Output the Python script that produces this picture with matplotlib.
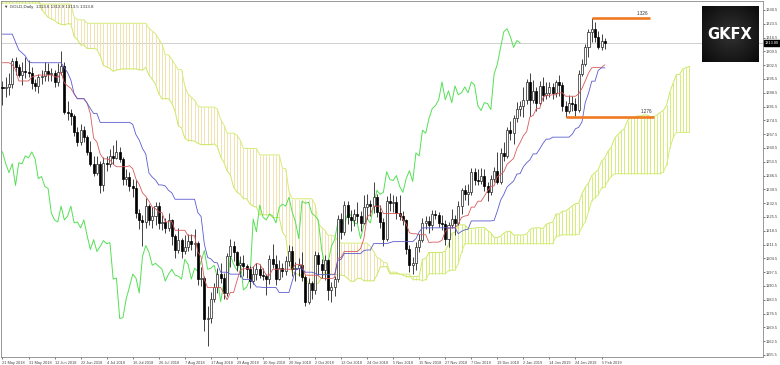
import numpy as np
import matplotlib.pyplot as plt
import matplotlib.transforms as mtransforms

# warm-up highs/lows (31 Jan - 18 May 2018), only used to build the Ichimoku lines
warm_high = [1346, 1350, 1350,
             1343, 1341, 1331, 1323, 1321,
             1324, 1332, 1351, 1361, 1362,
             1350, 1347, 1335, 1334, 1333,
             1340, 1334, 1321, 1322, 1324,
             1325, 1339, 1337, 1329, 1328,
             1324, 1330, 1328, 1327, 1318,
             1319, 1320, 1333, 1336, 1350,
             1356, 1356, 1343, 1329, 1327,
             1347, 1347, 1344, 1336, 1337,
             1338, 1341, 1365, 1354, 1348,
             1351, 1350, 1353, 1354, 1346,
             1338, 1335, 1332, 1326, 1324,
             1323, 1316, 1312, 1316, 1317,
             1318, 1316, 1315, 1323, 1325,
             1323, 1318, 1297, 1296, 1296]
warm_low = [1335, 1338, 1331,
            1331, 1322, 1315, 1310, 1307,
            1313, 1321, 1318, 1348, 1345,
            1343, 1325, 1321, 1322, 1325,
            1327, 1315, 1313, 1303, 1316,
            1312, 1317, 1323, 1314, 1315,
            1314, 1319, 1319, 1313, 1307,
            1307, 1307, 1309, 1321, 1326,
            1342, 1340, 1323, 1321, 1323,
            1322, 1331, 1329, 1321, 1324,
            1328, 1330, 1337, 1332, 1333,
            1342, 1340, 1342, 1344, 1334,
            1322, 1322, 1320, 1315, 1315,
            1314, 1302, 1302, 1304, 1307,
            1309, 1305, 1304, 1311, 1315,
            1315, 1289, 1286, 1286, 1286]

# daily bars 21 May 2018 - 6 Feb 2019
opens = [1291.5, 1291.0, 1291.5, 1293.0, 1304.5, 1301.5, 1297.5, 1299.5, 1299.0, 1298.5,
         1293.5, 1292.0, 1296.5, 1297.0, 1299.5, 1298.0, 1298.5, 1294.0, 1299.0, 1302.0,
         1279.0, 1278.5, 1276.5, 1268.5, 1263.5, 1269.5, 1266.0, 1258.5, 1252.5, 1248.0,
         1252.5, 1241.5, 1253.0, 1252.5, 1256.5, 1255.5, 1258.5, 1255.0, 1245.0, 1246.0,
         1241.0, 1240.0, 1227.5, 1224.0, 1223.0, 1231.0, 1224.0, 1226.0, 1231.0, 1222.5,
         1223.0, 1220.0, 1224.0, 1216.0, 1209.0, 1214.0, 1208.0, 1210.5, 1213.5, 1212.0,
         1212.5, 1194.0, 1194.5, 1174.0, 1174.5, 1184.0, 1190.0, 1196.5, 1194.5, 1187.0,
         1205.5, 1211.0, 1207.5, 1201.0, 1202.0, 1200.5, 1199.0, 1193.0, 1196.5, 1199.0,
         1196.0, 1195.5, 1194.0, 1204.0, 1201.5, 1194.0, 1199.5, 1198.0, 1203.0, 1208.5,
         1199.0, 1199.5, 1201.0, 1195.0, 1182.5, 1192.0, 1188.5, 1206.0, 1201.5, 1198.5,
         1203.5, 1188.5, 1190.0, 1194.0, 1224.5, 1218.0, 1231.5, 1225.5, 1224.0, 1227.0,
         1226.0, 1222.5, 1230.5, 1232.0, 1231.0, 1235.5, 1228.0, 1223.0, 1214.5, 1233.5,
         1232.5, 1233.0, 1227.5, 1226.0, 1224.0, 1209.5, 1201.0, 1202.0, 1210.5, 1214.0,
         1222.5, 1223.5, 1221.5, 1227.0, 1226.5, 1222.5, 1222.0, 1214.5, 1221.5, 1224.5,
         1222.5, 1231.0, 1239.0, 1237.0, 1238.0, 1248.5, 1244.5, 1244.0, 1246.5, 1241.0,
         1238.0, 1245.0, 1249.0, 1243.5, 1258.0, 1256.5, 1269.5, 1268.0, 1275.5, 1280.5,
         1282.0, 1285.0, 1294.0, 1285.0, 1289.5, 1283.5, 1292.0, 1287.5, 1288.5, 1291.5,
         1288.5, 1294.0, 1292.5, 1282.0, 1279.5, 1283.5, 1283.0, 1280.0, 1298.0, 1303.0,
         1311.5, 1319.5, 1321.0, 1317.0, 1311.5, 1315.0]
highs = [1294.5, 1296.5, 1298.5, 1306.0, 1306.5, 1303.0, 1304.0, 1306.5, 1305.0, 1301.5,
         1295.5, 1298.0, 1300.0, 1304.0, 1303.5, 1301.0, 1300.0, 1303.5, 1309.5, 1304.0,
         1284.5, 1280.5, 1277.5, 1271.0, 1272.5, 1271.5, 1267.0, 1264.0, 1256.5, 1256.5,
         1254.0, 1256.0, 1256.5, 1260.0, 1262.0, 1264.5, 1261.0, 1256.0, 1250.0, 1248.5,
         1245.0, 1244.5, 1229.5, 1226.5, 1235.0, 1232.0, 1230.5, 1233.0, 1233.0, 1226.5,
         1225.0, 1227.5, 1224.5, 1217.0, 1220.0, 1215.0, 1216.5, 1217.0, 1217.0, 1219.5,
         1213.5, 1200.0, 1195.5, 1180.5, 1187.5, 1192.0, 1199.5, 1202.0, 1197.0, 1207.0,
         1214.5, 1213.5, 1208.5, 1205.5, 1206.0, 1201.5, 1200.5, 1200.5, 1202.0, 1201.5,
         1199.5, 1196.5, 1206.0, 1212.0, 1206.0, 1203.5, 1202.0, 1205.5, 1211.5, 1211.0,
         1202.5, 1204.5, 1207.5, 1196.0, 1194.5, 1193.0, 1208.0, 1207.5, 1204.0, 1206.0,
         1204.0, 1192.5, 1195.5, 1226.5, 1227.5, 1233.5, 1233.5, 1229.0, 1229.5, 1233.0,
         1228.5, 1236.5, 1237.0, 1234.0, 1243.5, 1237.0, 1231.5, 1225.0, 1236.0, 1237.5,
         1236.5, 1236.0, 1236.5, 1228.5, 1224.5, 1211.5, 1205.0, 1213.0, 1217.0, 1225.0,
         1226.0, 1226.0, 1229.0, 1229.0, 1228.0, 1226.5, 1224.0, 1223.0, 1229.5, 1226.5,
         1233.5, 1240.0, 1241.5, 1242.0, 1250.5, 1250.5, 1250.0, 1250.5, 1250.0, 1243.5,
         1247.0, 1251.0, 1258.5, 1260.5, 1263.5, 1271.0, 1274.0, 1277.0, 1284.0, 1284.5,
         1291.5, 1295.5, 1298.5, 1295.0, 1291.5, 1294.5, 1296.5, 1294.0, 1294.0, 1293.5,
         1295.0, 1297.5, 1294.0, 1284.5, 1287.5, 1287.0, 1286.0, 1300.0, 1305.5, 1313.0,
         1321.0, 1326.3, 1324.5, 1320.0, 1318.5, 1316.5]
lows = [1282.5, 1286.5, 1287.5, 1291.0, 1297.5, 1296.5, 1292.5, 1296.0, 1296.5, 1290.5,
        1289.5, 1288.5, 1293.0, 1294.5, 1294.5, 1294.5, 1291.5, 1292.0, 1297.5, 1277.5,
        1274.5, 1272.0, 1266.5, 1261.5, 1262.0, 1263.5, 1257.0, 1251.5, 1246.5, 1247.0,
        1237.5, 1238.5, 1249.0, 1251.0, 1252.5, 1255.0, 1253.5, 1241.5, 1241.5, 1238.5,
        1235.5, 1225.0, 1219.5, 1211.0, 1220.0, 1221.5, 1220.0, 1221.5, 1219.5, 1219.0,
        1217.5, 1218.5, 1211.5, 1204.5, 1207.0, 1204.5, 1206.5, 1208.5, 1209.0, 1205.5,
        1191.0, 1190.5, 1167.5, 1160.0, 1171.5, 1182.5, 1187.0, 1192.0, 1184.0, 1185.5,
        1200.0, 1203.0, 1198.0, 1195.0, 1195.5, 1194.5, 1189.5, 1191.5, 1193.5, 1194.5,
        1193.5, 1186.0, 1191.5, 1199.5, 1191.0, 1193.5, 1195.0, 1196.0, 1200.5, 1195.5,
        1193.0, 1195.5, 1193.0, 1180.5, 1181.5, 1184.0, 1186.5, 1196.0, 1194.5, 1193.5,
        1183.5, 1182.5, 1185.5, 1192.5, 1214.5, 1216.5, 1222.0, 1218.5, 1221.0, 1222.5,
        1218.5, 1222.0, 1224.5, 1226.0, 1227.5, 1225.5, 1220.0, 1211.0, 1213.5, 1228.5,
        1228.0, 1224.5, 1224.0, 1221.5, 1206.5, 1197.5, 1196.5, 1198.5, 1207.5, 1213.0,
        1219.5, 1217.5, 1219.0, 1224.5, 1220.5, 1219.0, 1211.5, 1210.5, 1220.0, 1216.5,
        1221.5, 1227.0, 1234.0, 1231.5, 1236.5, 1241.5, 1241.5, 1242.0, 1238.5, 1233.5,
        1236.5, 1243.0, 1242.0, 1242.0, 1254.0, 1255.5, 1264.5, 1262.5, 1273.5, 1276.5,
        1276.0, 1283.0, 1276.5, 1283.5, 1279.5, 1282.5, 1284.5, 1285.5, 1286.5, 1285.5,
        1286.5, 1287.0, 1279.5, 1276.0, 1278.0, 1279.5, 1276.5, 1279.0, 1297.0, 1302.0,
        1306.5, 1314.5, 1314.5, 1310.5, 1310.0, 1310.5]
closes = [1291.0, 1291.5, 1293.0, 1304.5, 1301.5, 1297.5, 1299.5, 1299.0, 1298.5, 1293.5,
          1292.0, 1296.5, 1297.0, 1299.5, 1298.0, 1298.5, 1294.0, 1299.0, 1302.0, 1279.0,
          1278.5, 1276.5, 1268.5, 1263.5, 1269.5, 1266.0, 1258.5, 1252.5, 1248.0, 1252.5,
          1241.5, 1253.0, 1252.5, 1256.5, 1255.5, 1258.5, 1255.0, 1245.0, 1246.0, 1241.0,
          1240.0, 1227.5, 1224.0, 1223.0, 1231.0, 1224.0, 1226.0, 1231.0, 1222.5, 1223.0,
          1220.0, 1224.0, 1216.0, 1209.0, 1214.0, 1208.0, 1210.5, 1213.5, 1212.0, 1212.5,
          1194.0, 1194.5, 1174.0, 1174.5, 1184.0, 1190.0, 1196.5, 1194.5, 1187.0, 1205.5,
          1211.0, 1207.5, 1201.0, 1202.0, 1200.5, 1199.0, 1193.0, 1196.5, 1199.0, 1196.0,
          1195.5, 1194.0, 1204.0, 1201.5, 1194.0, 1199.5, 1198.0, 1203.0, 1208.5, 1199.0,
          1199.5, 1201.0, 1195.0, 1182.5, 1192.0, 1188.5, 1206.0, 1201.5, 1198.5, 1203.5,
          1188.5, 1190.0, 1194.0, 1224.5, 1218.0, 1231.5, 1225.5, 1224.0, 1227.0, 1226.0,
          1222.5, 1230.5, 1232.0, 1231.0, 1235.5, 1228.0, 1223.0, 1214.5, 1233.5, 1232.5,
          1233.0, 1227.5, 1226.0, 1224.0, 1209.5, 1201.0, 1202.0, 1210.5, 1214.0, 1222.5,
          1223.5, 1221.5, 1227.0, 1226.5, 1222.5, 1222.0, 1214.5, 1221.5, 1224.5, 1222.5,
          1231.0, 1239.0, 1237.0, 1238.0, 1248.5, 1244.5, 1244.0, 1246.5, 1241.0, 1238.0,
          1245.0, 1249.0, 1243.5, 1258.0, 1256.5, 1269.5, 1268.0, 1275.5, 1280.5, 1282.0,
          1285.0, 1294.0, 1285.0, 1289.5, 1283.5, 1292.0, 1287.5, 1288.5, 1291.5, 1288.5,
          1294.0, 1292.5, 1282.0, 1279.5, 1283.5, 1283.0, 1280.0, 1298.0, 1303.0, 1311.5,
          1319.5, 1321.0, 1317.0, 1311.5, 1315.0, 1313.8]

tick_labels = ['21 May 2018', '31 May 2018', '12 Jun 2018', '22 Jun 2018', '4 Jul 2018',
               '16 Jul 2018', '26 Jul 2018', '7 Aug 2018', '17 Aug 2018', '29 Aug 2018',
               '10 Sep 2018', '20 Sep 2018', '2 Oct 2018', '12 Oct 2018', '24 Oct 2018',
               '5 Nov 2018', '15 Nov 2018', '27 Nov 2018', '7 Dec 2018', '19 Dec 2018',
               '2 Jan 2019', '14 Jan 2019', '24 Jan 2019', '5 Feb 2019']
price_ticks = np.arange(1155.5, 1331.0, 7.0)
last_price = 1313.8
header = '\u25bc GOLD,Daily  1313.6 1313.9 1313.5 1313.8'

# horizontal levels drawn by hand on the chart
levels = [1326.3, 1276.4]
level_from = [181, 173]
level_to = [199, 200]
level_text = ['1.326', '1.276']

small = ['Liberation Sans', 'DejaVu Sans']

# ---- Ichimoku (9, 26, 52) ----
n_warm = len(warm_high)
H = np.array(warm_high + highs, dtype=float)
L = np.array(warm_low + lows, dtype=float)
xfull = np.arange(len(H)) - n_warm


def midpoint(n):
    out = np.full(len(H), np.nan)
    for j in range(n - 1, len(H)):
        out[j] = (H[j - n + 1:j + 1].max() + L[j - n + 1:j + 1].min()) / 2
    return out


tenkan = midpoint(9)
kijun = midpoint(26)
span_a = (tenkan + kijun) / 2
span_b = midpoint(52)
shown = xfull >= 0
cx = xfull + 26
cloud = (cx >= -1) & ~np.isnan(span_b)

fig = plt.figure(figsize=(7.8, 3.65), dpi=100)
ax = fig.add_axes([0.00128, 0.0219, 0.97692, 0.974])

# cloud hatching
bull_cloud = span_a >= span_b
ax.vlines(cx[cloud & ~bull_cloud], span_a[cloud & ~bull_cloud], span_b[cloud & ~bull_cloud],
          color='#f2e2ae', lw=0.7, zorder=1)
ax.vlines(cx[cloud & bull_cloud], span_a[cloud & bull_cloud], span_b[cloud & bull_cloud],
          color='#d3ee7a', lw=0.7, zorder=1)
ax.plot(cx[cloud], span_a[cloud], color='#cbe865', lw=0.7, zorder=2)
ax.plot(cx[cloud], span_b[cloud], color='#d6ec7c', lw=0.7, zorder=2)

ax.axhline(last_price, color='#c8c8c8', lw=0.6, zorder=0)

# chikou span
C = np.array(closes)
xs = np.arange(len(closes))
ax.plot(xs[26:] - 26, C[26:], color='#55e055', lw=0.7, zorder=3)

# candles
O = np.array(opens)
up = C >= O
ax.vlines(xs, lows, highs, color='#222222', lw=0.6, zorder=4)
body_lo = np.minimum(O, C)
body_h = np.maximum(np.abs(C - O), 0.3)
ax.bar(xs[up], body_h[up], bottom=body_lo[up], width=0.62, color='white',
       edgecolor='#222222', linewidth=0.5, zorder=5)
ax.bar(xs[~up], body_h[~up], bottom=body_lo[~up], width=0.62, color='black',
       edgecolor='black', linewidth=0.5, zorder=5)

ax.plot(xfull[shown], tenkan[shown], color='#d85a5a', lw=0.6, zorder=6)
ax.plot(xfull[shown], kijun[shown], color='#5a5ad0', lw=0.6, zorder=6)

# levels
for lv, a, b, t in zip(levels, level_from, level_to, level_text):
    ax.hlines(lv, a, b, color='#f07a22', lw=1.9, zorder=7)
    ax.text(b - 0.5, lv + 1.2, t, fontsize=3.3, family=small, color='#333333',
            ha='right', va='bottom')

ax.set_xlim(-0.46, 233.6)
ax.set_ylim(1154.48, 1334.81)

ax.yaxis.tick_right()
ax.set_yticks(price_ticks)
ax.set_yticklabels(['%.1f' % v for v in price_ticks], family=small)
ax.set_xticks(np.arange(len(tick_labels)) * 8)
ax.set_xticklabels(tick_labels, ha='left', family=small)
ax.tick_params(axis='y', labelsize=2.9, length=1.5, width=0.5, pad=0.8, colors='#444444')
ax.tick_params(axis='x', labelsize=2.8, length=1.5, width=0.5, pad=1.2, colors='#444444')
for s in ax.spines.values():
    s.set_color('#888888')
    s.set_linewidth(0.6)

ax.text(0.004, 0.99, header, transform=ax.transAxes, fontsize=3.2, family=small,
        va='top', color='#333333')

trans = mtransforms.blended_transform_factory(ax.transAxes, ax.transData)
ax.text(1.002, last_price, '%.2f' % last_price, transform=trans, fontsize=2.8, family=small,
        color='white', va='center', ha='left', clip_on=False,
        bbox=dict(boxstyle='square,pad=0.25', fc='black', ec='black'))

# logo
lg = fig.add_axes([0.9, 0.827, 0.072, 0.159])
yy, xx = np.mgrid[-1:1:60j, -1:1:60j]
lg.imshow(-np.hypot(xx, yy), cmap='gray', vmin=-1.76, vmax=7.04, extent=(0, 1, 0, 1))
lg.text(0.5, 0.5, 'GKFX', color='white', fontsize=10.5, fontweight='bold',
        ha='center', va='center', transform=lg.transAxes)
lg.set_axis_off()

fig.savefig('out.png', dpi=100)
